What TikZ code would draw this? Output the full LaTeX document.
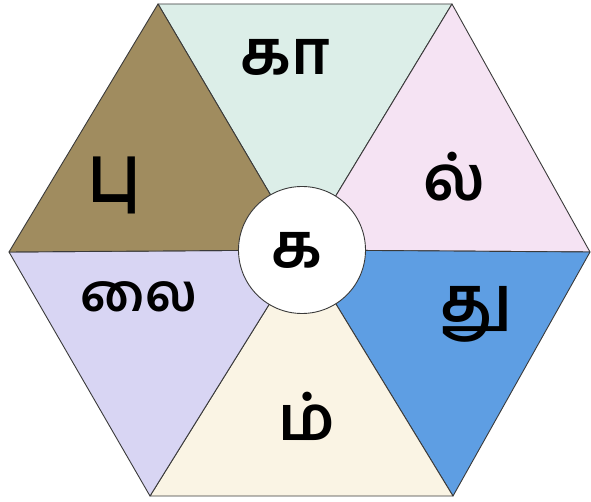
\documentclass[tikz,border=0pt]{standalone}
\usepackage{fontspec}
\newfontfamily\tamil[Script=Tamil]{Hind Madurai}
\definecolor{cTop}{HTML}{DCEEE8}
\definecolor{cTR}{HTML}{F5E3F3}
\definecolor{cBR}{HTML}{5E9EE3}
\definecolor{cBot}{HTML}{FAF4E4}
\definecolor{cBL}{HTML}{D8D5F3}
\definecolor{cTL}{HTML}{A08C5F}
\definecolor{edge}{HTML}{3A3A3A}
\begin{document}
\begin{tikzpicture}[x=1pt,y=-1pt,
  tri/.style={draw=edge,line width=0.9pt,line join=round},
  glyph/.style={font=\tamil\fontsize{62}{70}\selectfont\bfseries,text=black,inner sep=0pt}]
\useasboundingbox (0,0) rectangle (591,502);
\coordinate (O) at (303,250);
\coordinate (TL) at (158,4);
\coordinate (TR) at (452,4);
\coordinate (R) at (590,252);
\coordinate (BR) at (453,496);
\coordinate (BL) at (150,496);
\coordinate (L) at (9,252);
\fill[white] (0,0) rectangle (591,502);
\filldraw[tri,fill=cTop] (O) -- (TL) -- (TR) -- cycle;
\filldraw[tri,fill=cTR] (O) -- (TR) -- (R) -- cycle;
\filldraw[tri,fill=cBR] (O) -- (R) -- (BR) -- cycle;
\filldraw[tri,fill=cBot] (O) -- (BR) -- (BL) -- cycle;
\filldraw[tri,fill=cBL] (O) -- (BL) -- (L) -- cycle;
\filldraw[tri,fill=cTL] (O) -- (L) -- (TL) -- cycle;
\node[circle,draw=edge,line width=0.9pt,fill=white,minimum size=127pt,inner sep=0pt] (c) at (302,250) {};
\node[glyph] (k) at (297,250) {க};
\node[glyph] (ka) at (285,57) {கா};
\node[glyph] (l) at (454,177) {ல்};
\node[glyph] (tu) at (476,314) {து};
\node[glyph] (m) at (307,416) {ம்};
\node[glyph,font=\tamil\fontsize{52}{60}\selectfont\bfseries] (lai) at (139,297) {லை};
\node[glyph] (pu) at (114,185) {\scalebox{1}[1.3]{பு}};
\end{tikzpicture}
\end{document}
